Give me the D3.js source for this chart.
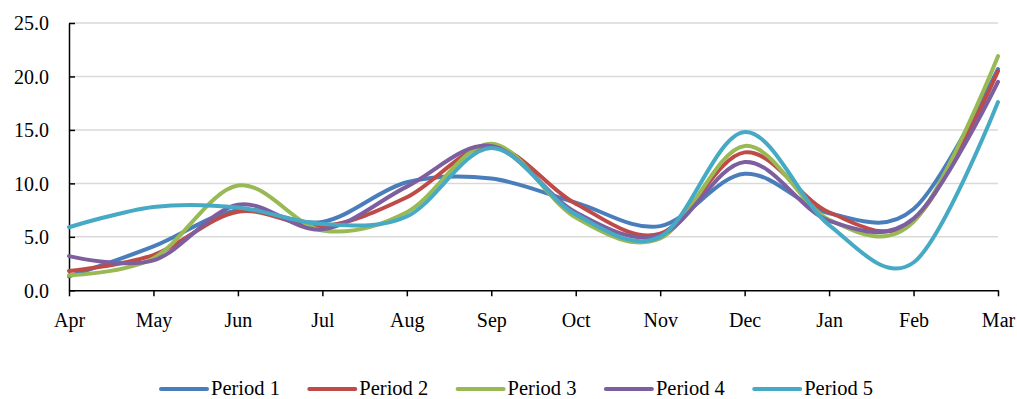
<!DOCTYPE html>
<html>
<head>
<meta charset="utf-8">
<script src="https://cdn.jsdelivr.net/npm/d3@7"></script>
<style>
  html, body { margin: 0; padding: 0; background: #ffffff; }
  svg { display: block; }
  text { font-family: "Liberation Serif", "Times New Roman", serif; fill: #000; }
</style>
</head>
<body>
<svg id="chart" width="1017" height="399"></svg>
<script>
// Months on the category axis
const months = ["Apr", "May", "Jun", "Jul", "Aug", "Sep", "Oct", "Nov", "Dec", "Jan", "Feb", "Mar"];

// Monthly values for each period
const period1 = [1.3, 4.1, 7.5, 6.4, 10.1, 10.45, 8.2, 6.0, 10.9, 7.2, 7.6, 20.7];
const period2 = [1.8, 3.3, 7.35, 6.0, 8.7, 13.5, 8.1, 5.3, 12.9, 7.3, 6.5, 20.5];
const period3 = [1.4, 3.0, 9.8, 5.6, 7.3, 13.7, 6.8, 4.85, 13.5, 6.6, 6.4, 21.9];
const period4 = [3.2, 2.8, 8.0, 5.7, 9.7, 13.5, 7.3, 5.15, 12.0, 6.5, 6.7, 19.5];
const period5 = [5.9, 7.8, 7.75, 6.2, 6.9, 13.3, 7.1, 5.0, 14.8, 6.1, 2.6, 17.6];

const seriesNames = ["Period 1", "Period 2", "Period 3", "Period 4", "Period 5"];
const seriesColors = ["#4a7ebb", "#be4b48", "#98b954", "#7d5fa0", "#46aac5"];
const yTicks = [0, 5, 10, 15, 20, 25];

const series = [period1, period2, period3, period4, period5].map((values, i) => ({
  name: seriesNames[i],
  color: seriesColors[i],
  values
}));

const svg = d3.select("#chart");
const margin = { left: 69, right: 19, top: 23, bottom: 108.7 };
const width = 1017 - margin.left - margin.right;
const height = 399 - margin.top - margin.bottom;

const x = d3.scalePoint().domain(months).range([0, width]);
const y = d3.scaleLinear().domain([0, 25]).range([height, 0]);

const g = svg.append("g").attr("transform", `translate(${margin.left},${margin.top})`);

// Horizontal gridlines
g.append("g")
  .selectAll("line")
  .data(yTicks.filter(t => t > 0))
  .join("line")
  .attr("x1", 0).attr("x2", width)
  .attr("y1", d => y(d)).attr("y2", d => y(d))
  .attr("stroke", "#d9d9d9")
  .attr("stroke-width", 1.5);

// Y axis (ticks point into the plot)
const yAxis = g.append("g")
  .call(d3.axisLeft(y).tickValues(yTicks).tickFormat(d3.format(".1f")).tickSizeInner(-6).tickSizeOuter(0).tickPadding(20));
yAxis.select(".domain").attr("stroke", "#000").attr("stroke-width", 1.5);
yAxis.selectAll(".tick line").attr("stroke", "#000").attr("stroke-width", 1.5);
yAxis.selectAll("text").style("font-size", "20px").attr("dy", "0.34em");

// X axis (ticks point outward)
const xAxis = g.append("g")
  .attr("transform", `translate(0,${height})`)
  .call(d3.axisBottom(x).tickSizeInner(6).tickSizeOuter(0).tickPadding(17));
xAxis.select(".domain").attr("stroke", "#000").attr("stroke-width", 1.5);
xAxis.selectAll(".tick line").attr("stroke", "#000").attr("stroke-width", 1.5);
xAxis.selectAll("text").style("font-size", "20px");

// Smoothed series lines
const line = d3.line()
  .x((d, i) => x(months[i]))
  .y(d => y(d))
  .curve(d3.curveCatmullRom.alpha(0));

g.append("g")
  .selectAll("path")
  .data(series)
  .join("path")
  .attr("d", d => line(d.values))
  .attr("fill", "none")
  .attr("stroke", d => d.color)
  .attr("stroke-width", 4)
  .attr("stroke-linejoin", "round")
  .attr("stroke-linecap", "round");

// Legend along the bottom
const legend = svg.append("g").attr("transform", "translate(161,389)");
const item = legend.selectAll("g")
  .data(series)
  .join("g")
  .attr("transform", (d, i) => `translate(${i * 148.3},0)`);
item.append("line")
  .attr("x1", 0).attr("x2", 46)
  .attr("y1", 0).attr("y2", 0)
  .attr("stroke", d => d.color)
  .attr("stroke-width", 4)
  .attr("stroke-linecap", "round");
item.append("text")
  .attr("x", 50)
  .attr("y", 5.5)
  .style("font-size", "20.5px")
  .text(d => d.name);
</script>
</body>
</html>
